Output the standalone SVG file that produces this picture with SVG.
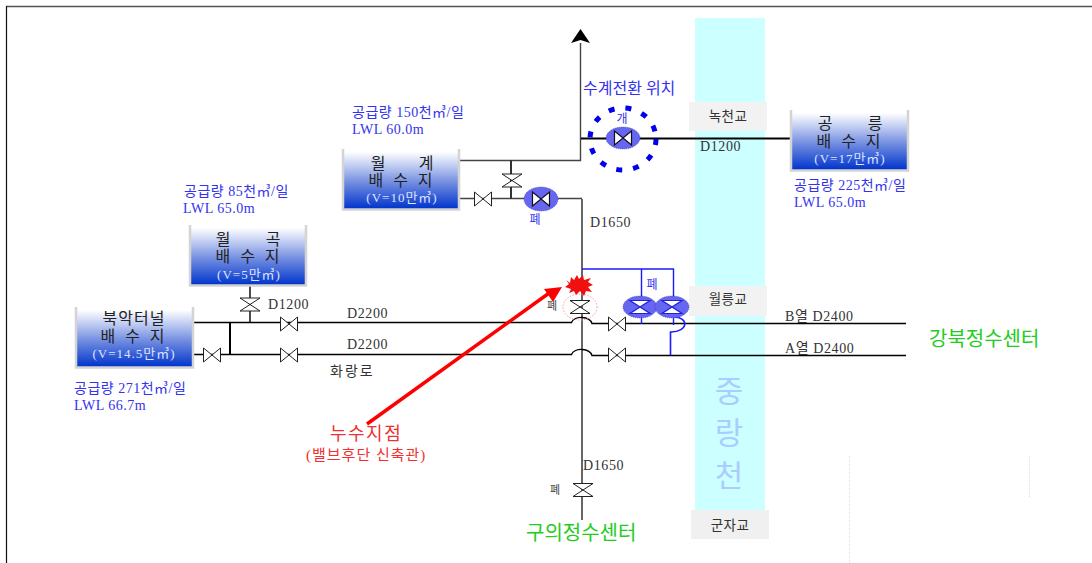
<svg xmlns="http://www.w3.org/2000/svg" xmlns:xlink="http://www.w3.org/1999/xlink" width="1092" height="563" viewBox="0 0 1092 563">
<style>
text{font-family:"Liberation Serif","Noto Sans CJK KR",serif;}
.d{font-size:14px;letter-spacing:.6px;fill:#333;}
.i{font-size:14px;letter-spacing:.5px;fill:#3333ee;}
.tt{font-size:16px;letter-spacing:3px;fill:#222;text-anchor:middle;}
.tn{font-size:16px;fill:#222;text-anchor:middle;}
.tv{font-size:13px;letter-spacing:1px;fill:#dde4ff;text-anchor:middle;}
.br{font-size:13.500px;letter-spacing:.4px;fill:#333;text-anchor:middle;}
.small{font-size:11px;fill:#444;text-anchor:middle;}
.blk{stroke:#000;stroke-width:1.4;fill:none;}
.gry{stroke:#666;stroke-width:2;fill:none;}
.blu{stroke:#1a1aff;stroke-width:1.4;fill:none;}
.v{fill:#fff;stroke:#222;stroke-width:1;}
.be{fill:#6666f0;stroke:#3333aa;stroke-width:.6;stroke-dasharray:1 1;}
.vb{fill:#fff;stroke:#112;stroke-width:1.2;}
.tank{fill:url(#g);}
.rim{fill:none;stroke:#d4d4d4;stroke-width:2.500;}
</style>
<defs>
<linearGradient id="g" x1="0" y1="0" x2="0" y2="1"><stop offset="0" stop-color="#ffffff"/><stop offset=".55" stop-color="#6f8be0"/><stop offset="1" stop-color="#0033cc"/></linearGradient>
<path id="vh" d="M-8.5-7 L8.5 7 V-7 L-8.5 7Z"/>
<path id="vv" d="M-10-6.5 H10 L-10 6.5 H10Z"/>
</defs>
<rect width="1092" height="563" fill="#fff"/>
<path d="M6 6.5H1092" stroke="#555" stroke-width="1.4" fill="none"/>
<path d="M6.5 6V563" stroke="#111" stroke-width="1.2" fill="none"/>
<path d="M849.5 456V563M1029.5 456V497" stroke="#ddd" stroke-width="1" stroke-dasharray="1 1" fill="none"/>
<g id="river">
<rect x="695" y="18" width="70" height="492" fill="#ccffff"/>
<text x="729" y="402" font-size="31" fill="#aaccff" text-anchor="middle">중</text>
<text x="729" y="444" font-size="31" fill="#aaccff" text-anchor="middle">랑</text>
<text x="729" y="487" font-size="31" fill="#aaccff" text-anchor="middle">천</text>
</g>
<g id="bridge-1"><rect x="689" y="102" width="78" height="29" fill="#f2f2f2"/><text class="br" x="728" y="121">녹천교</text></g>
<g id="bridge-2"><rect x="689" y="286" width="78" height="30" fill="#f2f2f2"/><text class="br" x="728" y="304">월릉교</text></g>
<g id="bridge-3"><rect x="691" y="510" width="78" height="29" fill="#f0f0f0"/><text class="br" x="730" y="530">군자교</text></g>
<g id="connectors">
<path class="gry" d="M460 160.5H580.5V43M460 198.5H582" style="stroke-width:1.4;stroke:#444"/>
<path class="gry" d="M582 199V520"/>
<path class="gry" d="M511 160V199" style="stroke:#333"/>
<path d="M571 43L580.5 29L590 43L580.500 40Z" fill="#000"/>
<path d="M581 138.5H791" stroke="#000" stroke-width="2" fill="none"/>
<path class="blk" d="M193 322.5H571.500A10.500 7 0 0 1 592 323.500H906"/>
<path class="blk" d="M193 354.5H571.500A10.500 7 0 0 1 592 355.500H906"/>
<path class="blk" d="M230 322.5V354.5" style="stroke-width:2"/>
<path class="blk" d="M250 285V323"/>
<path class="blu" d="M582 269H673.5V325M641.5 269V324"/>
<path class="blu" d="M673 317C690 317 688 332 671 332H670.500V355" style="stroke-width:1.6"/>
<path d="M367 424L552 291" stroke="#f00" stroke-width="3.5" fill="none"/>
<path d="M562 287L544 289L553 302Z" fill="#f00"/>
</g>
<g id="tank-wolgye"><rect class="tank" x="343" y="152" width="116" height="57"/><path class="rim" d="M343 149V209.500H459V149"/><text class="tn" x="378" y="169">월</text><text class="tn" x="426" y="169">계</text><text class="tt" x="402" y="186">배 수 지</text><text class="tv" x="402" y="202">(V=10만㎥)</text></g>
<g id="tank-wolgok"><rect class="tank" x="190" y="228" width="116" height="57"/><path class="rim" d="M190 225V285.500H306V225"/><text class="tn" x="223" y="245">월</text><text class="tn" x="273" y="245">곡</text><text class="tt" x="249" y="262">배 수 지</text><text class="tv" x="249" y="279">(V=5만㎥)</text></g>
<g id="tank-bukak"><rect class="tank" x="76" y="310" width="117" height="57"/><path class="rim" d="M76 307V367.500H193V307"/><text class="tt" style="letter-spacing:1px" x="134" y="324">북악터널</text><text class="tt" x="134" y="342">배 수 지</text><text class="tv" x="134" y="358">(V=14.5만㎥)</text></g>
<g id="tank-gongneung"><rect class="tank" x="791" y="113" width="117" height="57"/><path class="rim" d="M791 110V170.500H908V110"/><text class="tn" x="825" y="129">공</text><text class="tn" x="875" y="129">릉</text><text class="tt" x="850" y="147">배 수 지</text><text class="tv" x="850" y="163">(V=17만㎥)</text></g>
<g id="valve-a1"><use href="#vh" class="v" x="483" y="199"/></g>
<g id="valve-a2"><use href="#vv" class="v" x="512" y="180.500"/></g>
<g id="valve-a3"><ellipse class="be" cx="541" cy="199" rx="17" ry="12"/><use href="#vh" class="vb" x="541" y="199"/></g>
<g id="valve-switch"><ellipse cx="623" cy="139" rx="33" ry="31" fill="none" stroke="#0000ee" stroke-width="5" stroke-dasharray="6 11"/><ellipse class="be" cx="623" cy="138" rx="17" ry="11"/><use href="#vh" class="vb" x="623" y="138"/></g>
<g id="valve-b1"><use href="#vv" class="v" x="250" y="304.500"/></g>
<g id="valve-b2"><use href="#vh" class="v" x="289" y="324"/></g>
<g id="valve-b3"><use href="#vh" class="v" x="212" y="355"/></g>
<g id="valve-b4"><use href="#vh" class="v" x="289" y="355"/></g>
<g id="valve-c1"><ellipse cx="580" cy="307" rx="17" ry="13" fill="none" stroke="#f99" stroke-width="1" stroke-dasharray="1.500 1.500"/><use href="#vv" class="v" x="580" y="307"/></g>
<g id="valve-c2"><use href="#vh" class="v" x="617" y="324"/></g>
<g id="valve-c3"><use href="#vh" class="v" x="617" y="355"/></g>
<g id="valve-c4"><ellipse class="be" cx="640" cy="307" rx="17" ry="11"/><use href="#vv" class="vb" x="640" y="307" style="stroke:#2222dd"/></g>
<g id="valve-c5"><ellipse class="be" cx="672" cy="307" rx="17" ry="11"/><use href="#vv" class="vb" x="672" y="307" style="stroke:#2222dd"/></g>
<g id="valve-d"><use href="#vv" class="v" x="583" y="490"/></g>
<g id="leak"><path d="M566 280L570 283L571 277L574 280L577 275L579 279L583 275L584 280L591 278L588 282L593 285L588 287L592 292L586 291L584 296L580 291L576 295L574 291L569 293L571 289L565 287L569 284Z" fill="#f01010"/></g>
<g id="labels">
<text x="583" y="94" font-size="16" fill="#3333ee">수계전환 위치</text>
<text x="622" y="123" font-size="12" fill="#3333ee" text-anchor="middle">개</text>
<text x="535" y="224" font-size="12" fill="#3333ee" text-anchor="middle">폐</text>
<text x="652" y="289" font-size="12" fill="#3333ee" text-anchor="middle">폐</text>
<text class="small" x="552" y="310">폐</text>
<text class="small" x="555" y="494">폐</text>
<text class="i" x="352" y="117">공급량 150천㎥/일</text><text class="i" x="352" y="134">LWL 60.0m</text>
<text class="i" x="184" y="196">공급량 85천㎥/일</text><text class="i" x="183" y="213">LWL 65.0m</text>
<text class="i" x="74" y="393">공급량 271천㎥/일</text><text class="i" x="74" y="410">LWL 66.7m</text>
<text class="i" x="794" y="190">공급량 225천㎥/일</text><text class="i" x="794" y="207">LWL 65.0m</text>
<text class="d" x="700" y="151">D1200</text>
<text class="d" x="590" y="227">D1650</text>
<text class="d" x="268" y="309">D1200</text>
<text class="d" x="347" y="318">D2200</text>
<text class="d" x="347" y="349">D2200</text>
<text class="d" x="785" y="321">B열 D2400</text>
<text class="d" x="785" y="353">A열 D2400</text>
<text class="d" x="583" y="470">D1650</text>
<text x="330" y="376" font-size="14" letter-spacing="2" fill="#333">화랑로</text>
<text x="330" y="440" font-size="18" letter-spacing="1.500" fill="#f03030">누수지점</text>
<text x="306" y="460" font-size="15" letter-spacing="1" fill="#f03030">(밸브후단 신축관)</text>
<text x="526" y="540" font-size="20" fill="#22cc22">구의정수센터</text>
<text x="929" y="346" font-size="20" fill="#22cc22">강북정수센터</text>
</g>
</svg>
